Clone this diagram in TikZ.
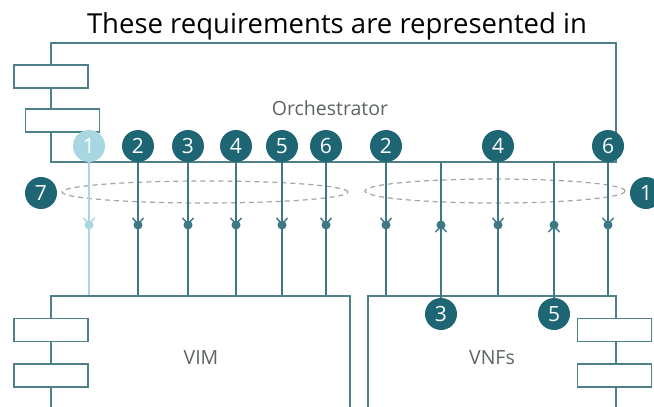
\documentclass[tikz,border=0pt]{standalone}
\usepackage{fontspec}
\setmainfont{Open Sans}
\usetikzlibrary{arrows.meta,shapes.geometric}

\definecolor{boxline}{HTML}{4F7F89}
\definecolor{linkdark}{HTML}{3E7884}
\definecolor{badgedark}{HTML}{1F6675}
\definecolor{badgelight}{HTML}{A9D7E1}
\definecolor{ringgray}{HTML}{A3A3A3}
\definecolor{labelgray}{HTML}{5E6466}

\tikzset{
  box/.style={draw=boxline, line width=1.8pt, inner sep=0pt},
  comp/.style={draw=boxline, fill=white, line width=1.8pt, inner sep=0pt,
               minimum width=74pt, minimum height=23pt},
  badge/.style={circle, fill=badgedark, text=white, inner sep=0pt,
                minimum size=32pt, font=\fontsize{21}{21}\selectfont},
  lightbadge/.style={badge, fill=badgelight},
  dotpt/.style={circle, fill=linkdark, inner sep=0pt, minimum size=9pt},
  lightdot/.style={dotpt, fill=badgelight},
  link/.style={draw=linkdark, line width=1.7pt},
  lightlink/.style={draw=badgelight, line width=1.7pt},
  barbtip/.style={-{Straight Barb[length=6pt,width=11pt,line width=1.4pt]}},
  ring/.style={draw=ringgray, ellipse, inner sep=0pt, line width=1.2pt,
               dash pattern=on 5pt off 4pt},
  boxlabel/.style={text=labelgray, anchor=base, font=\fontsize{19.5}{20}\selectfont}
}

\begin{document}
\begin{tikzpicture}[x=1pt, y=-1pt]
\useasboundingbox (0,0) rectangle (654,407);

% heading
\node[anchor=base, font=\fontsize{27.5}{28}\selectfont] (title) at (337,33)
  {These requirements are represented in};

% interface groups (dashed rings)
\node[ring, minimum width=286pt, minimum height=22pt] (ringL) at (205,192) {};
\node[ring, minimum width=260pt, minimum height=24pt] (ringR) at (495,191) {};

% main blocks
\node[box, minimum width=565pt, minimum height=119pt] (orch) at (333.5,102.5) {};
\node[boxlabel] (orchlabel) at (330,115) {Orchestrator};
\node[box, minimum width=299pt, minimum height=140pt] (vim) at (200.5,366) {};
\node[boxlabel] (vimlabel) at (201,364) {VIM};
\node[box, minimum width=248pt, minimum height=140pt] (vnf) at (492,366) {};
\node[boxlabel] (vnflabel) at (492,364) {VNFs};

% component symbols on the block edges
\node[comp] (oc1) at (51,76.5) {};
\node[comp] (oc2) at (62.5,120.5) {};
\node[comp] (vc1) at (51,330) {};
\node[comp] (vc2) at (51,375.5) {};
\node[comp] (nc1) at (614.5,330) {};
\node[comp] (nc2) at (614.5,375.5) {};

% reference point 1 (orchestrator -> VIM, light)
\coordinate (dl1) at (89,225);
\node[lightbadge] (ot1) at (89,146) {1};
\draw[lightlink, barbtip] (ot1) -- (dl1);
\draw[lightlink] (dl1) -- (vim.north -| dl1);
\node[lightdot] (pl1) at (dl1) {};

% reference points 2..6 (orchestrator -> VIM)
\foreach \x/\n in {138/2,188/3,236/4,282/5,326/6} {
  \coordinate (dl\n) at (\x,225);
  \node[badge] (ot\n) at (\x,146) {\n};
  \draw[link, barbtip] (ot\n) -- (dl\n);
  \draw[link] (dl\n) -- (vim.north -| dl\n);
  \node[dotpt] (pl\n) at (dl\n) {};
}

% orchestrator -> VNFs
\foreach \x/\n in {386/2,498/4,608/6} {
  \coordinate (dr\n) at (\x,225);
  \node[badge] (or\n) at (\x,146) {\n};
  \draw[link, barbtip] (or\n) -- (dr\n);
  \draw[link] (dr\n) -- (vnf.north -| dr\n);
  \node[dotpt] (pr\n) at (dr\n) {};
}

% VNFs -> orchestrator
\foreach \x/\n in {441/3,554/5} {
  \coordinate (dr\n) at (\x,225);
  \node[badge] (ob\n) at (\x,314) {\n};
  \draw[link] (orch.south -| dr\n) -- (dr\n);
  \draw[link, barbtip] (ob\n) -- (dr\n);
  \node[dotpt] (pr\n) at (dr\n) {};
}

% group markers
\node[badge] (g7) at (41,193) {7};
\node[badge] (g1) at (646,193) {1};
\end{tikzpicture}
\end{document}
